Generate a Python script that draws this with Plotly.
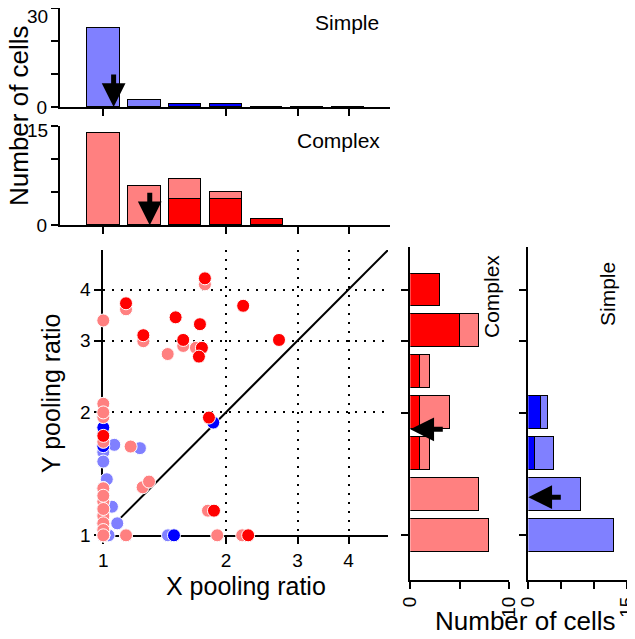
import numpy as np
import plotly.graph_objects as go

# ---------------- data ----------------
# Histogram bins are centred on pooling ratios 2^(k/3), k = 0..6  (1 ... 4)
bin_index = [0, 1, 2, 3, 4, 5, 6]

# X pooling ratio histograms (top panels)
x_simple_dark = [0, 0, 1, 1, 0, 0, 0]
x_simple_light = [24, 2, 0, 0, 0, 0, 0]
x_complex_dark = [0, 0, 4, 4, 1, 0, 0]
x_complex_light = [14, 6, 3, 1, 0, 0, 0]

# Y pooling ratio histograms (right panels)
y_complex_dark = [0, 0, 1, 1, 1, 5, 3]
y_complex_light = [8, 7, 1, 3, 1, 2, 0]
y_simple_dark = [0, 0, 1, 2, 0, 0, 0]
y_simple_light = [13, 8, 3, 1, 0, 0, 0]

# medians (arrows)
median_x_simple = 1.06
median_x_complex = 1.30
median_y_complex = 1.82
median_y_simple = 1.24

# scatter: complex cells (x ratio, y ratio, x significant, y significant)
complex_x = [1.776, 1.137, 1.00, 1.505, 1.727, 2.205, 1.254, 1.571, 1.439, 1.717,
             1.717, 2.70, 1.817, 1.00, 1.00, 1.00, 1.00, 1.00, 1.00, 1.00,
             1.00, 1.167, 1.249, 1.295, 1.838, 1.137, 1.904, 2.23,
             1.00, 1.00, 1.00, 1.00, 1.00]
complex_y = [4.19, 3.64, 3.36, 3.42, 3.29, 3.65, 3.04, 2.96, 2.78, 2.88,
             2.74, 3.01, 1.943, 2.10, 1.948, 1.723, 1.304, 1.209, 1.115, 1.07,
             1.00, 1.65, 1.311, 1.354, 1.149, 1.00, 1.00, 1.00,
             2.00, 1.25, 1.16, 1.03, 1.00]
complex_xsig = [0, 0, 0, 1, 1, 1, 0, 0, 0, 1,
                1, 1, 1, 0, 0, 0, 0, 0, 0, 0,
                0, 0, 0, 0, 1, 0, 0, 1,
                0, 0, 0, 0, 0]
complex_ysig = [1, 1, 0, 1, 1, 1, 1, 1, 0, 0,
                1, 1, 1, 0, 0, 1, 0, 0, 0, 0,
                0, 0, 0, 0, 0, 0, 0, 0,
                0, 0, 0, 0, 0]

# scatter: simple cells
simple_x = [1.00, 1.00, 1.862, 1.466, 1.00, 1.02, 1.05, 1.082, 1.064, 1.23, 1.03,
            1.00, 1.00, 1.00, 1.00, 1.00, 1.00, 1.00,
            1.137, 1.00, 1.00, 1.00, 1.00, 1.00, 1.00, 1.00, 1.00, 1.00]
simple_y = [1.806, 1.626, 1.889, 1.00, 1.516, 1.372, 1.175, 1.07, 1.666, 1.635, 1.00,
            1.948, 1.304, 1.209, 1.25, 1.16, 1.304, 1.25,
            1.00, 1.00, 1.00, 1.00, 1.07, 1.07, 1.115, 1.115, 1.03, 1.03]
simple_xsig = [0, 0, 1, 1, 0, 0, 0, 0, 0, 0, 0,
               0, 0, 0, 0, 0, 0, 0,
               0, 0, 0, 0, 0, 0, 0, 0, 0, 0]
simple_ysig = [1, 1, 1, 0, 0, 0, 0, 0, 0, 0, 0,
               0, 0, 0, 0, 0, 0, 0,
               0, 0, 0, 0, 0, 0, 0, 0, 0, 0]

ratio_ticks = [1, 2, 3, 4]
unity_line = [1.1, 5]

# ---------------- style ----------------
LIGHT_RED = "#FF8080"
DARK_RED = "#FF0000"
LIGHT_BLUE = "#8080FF"
DARK_BLUE = "#0000FF"
FONT = "Liberation Sans, Arial, sans-serif"
OFF = 8                      # page body margin
W, H = 635 - OFF, 639 - OFF  # visible figure area
PX_PER_LN = 177.0


def px_x(p):
    return min(1.0, max(0.0, (p - OFF) / W))


def px_y(p):
    return min(1.0, max(0.0, 1 - (p - OFF) / H))


def to_bin(v):
    return 3 * np.log2(v)


def nz(vals):
    return [v if v else None for v in vals]


def split_points(xs, ys, xsig, ysig):
    s = np.exp(3.0 / PX_PER_LN)
    lx, ly, dx, dy = [], [], [], []
    for x, y, a, b in zip(xs, ys, xsig, ysig):
        if a and b:
            dx.append(x); dy.append(y)
        elif a:
            lx.append(x / s); ly.append(y); dx.append(x * s); dy.append(y)
        elif b:
            lx.append(x); ly.append(y / s); dx.append(x); dy.append(y * s)
        else:
            lx.append(x); ly.append(y)
    return lx, ly, dx, dy


fig = go.Figure()

# unity line
fig.add_trace(go.Scatter(x=unity_line, y=unity_line, mode="lines",
                         line=dict(color="black", width=2), xaxis="x", yaxis="y",
                         hoverinfo="skip"))

marker_common = dict(size=13, line=dict(color="white", width=1))
for xs, ys, xsig, ysig, light, dark in [
    (simple_x, simple_y, simple_xsig, simple_ysig, LIGHT_BLUE, DARK_BLUE),
    (complex_x, complex_y, complex_xsig, complex_ysig, LIGHT_RED, DARK_RED),
]:
    lx, ly, dx, dy = split_points(xs, ys, xsig, ysig)
    fig.add_trace(go.Scatter(x=lx, y=ly, mode="markers", cliponaxis=False,
                             marker=dict(color=light, **marker_common),
                             xaxis="x", yaxis="y"))
    fig.add_trace(go.Scatter(x=dx, y=dy, mode="markers", cliponaxis=False,
                             marker=dict(color=dark, **marker_common),
                             xaxis="x", yaxis="y"))

bar_line = dict(color="black", width=1.5)
# top histograms
for xa, ya, dark_v, light_v, dc, lc, keep0 in [
    ("x2", "y2", x_simple_dark, x_simple_light, DARK_BLUE, LIGHT_BLUE, True),
    ("x3", "y3", x_complex_dark, x_complex_light, DARK_RED, LIGHT_RED, False),
]:
    dv = dark_v if keep0 else nz(dark_v)
    lv = light_v if keep0 else nz(light_v)
    fig.add_trace(go.Bar(x=bin_index, y=dv, width=0.8, marker=dict(color=dc, line=bar_line),
                         xaxis=xa, yaxis=ya))
    fig.add_trace(go.Bar(x=bin_index, y=lv, width=0.8, marker=dict(color=lc, line=bar_line),
                         xaxis=xa, yaxis=ya))
# right histograms
for xa, ya, dark_v, light_v, dc, lc in [
    ("x4", "y4", y_complex_dark, y_complex_light, DARK_RED, LIGHT_RED),
    ("x5", "y5", y_simple_dark, y_simple_light, DARK_BLUE, LIGHT_BLUE),
]:
    fig.add_trace(go.Bar(y=bin_index, x=nz(dark_v), width=0.8, orientation="h",
                         marker=dict(color=dc, line=bar_line), xaxis=xa, yaxis=ya))
    fig.add_trace(go.Bar(y=bin_index, x=nz(light_v), width=0.8, orientation="h",
                         marker=dict(color=lc, line=bar_line), xaxis=xa, yaxis=ya))

# empty traces so the overlay label axes (top count labels) are drawn
for ya in ("y6", "y7"):
    fig.add_trace(go.Scatter(x=[], y=[], mode="markers", xaxis="x2" if ya == "y6" else "x3",
                             yaxis=ya, hoverinfo="skip"))

tickfont = dict(family=FONT, size=19, color="black")
axis_common = dict(showline=True, linecolor="black", linewidth=2, ticks="outside",
                   ticklen=7, tickwidth=2, tickcolor="black", tickfont=tickfont,
                   zeroline=False, fixedrange=True, automargin=False,
                   ticklabeloverflow="allow")
grid = dict(showgrid=True, gridcolor="black", gridwidth=1.5, griddash="2px,7px",
            layer="below traces")
nogrid = dict(showgrid=False)
# overlay axis used only for the top tick label of a count axis (drawn a little lower)
top_label_axis = dict(showline=False, ticks="outside", ticklen=7, tickwidth=2,
                      tickcolor="rgba(0,0,0,0)", tickfont=tickfont, showgrid=False,
                      zeroline=False, fixedrange=True, automargin=False,
                      ticklabeloverflow="allow", side="left")

bin_ticks = [to_bin(v) for v in ratio_ticks]
hist_ratio_range = [-1.059, 7.01]
simple_x_count_range = [0, 30]
complex_x_count_range = [0, 15]

fig.update_layout(
    width=W, height=H, margin=dict(l=0, r=0, t=0, b=0, pad=0, autoexpand=False),
    paper_bgcolor="white", plot_bgcolor="white", showlegend=False,
    barmode="stack", bargap=0, font=dict(family=FONT, color="black"),
    xaxis=dict(type="log", range=[0, np.log10(5)], domain=[px_x(103.3), px_x(388)],
               anchor="y", tickvals=ratio_ticks, ticktext=[str(v) for v in ratio_ticks],
               **grid, **axis_common),
    yaxis=dict(type="log", range=[0, np.log10(5)], domain=[px_y(535.3), px_y(250)],
               anchor="x", tickvals=ratio_ticks, ticktext=[str(v) for v in ratio_ticks],
               **grid, **axis_common),
    xaxis2=dict(range=hist_ratio_range, domain=[px_x(60), px_x(390)], anchor="y2",
                tickvals=bin_ticks, showticklabels=False, **nogrid, **axis_common),
    yaxis2=dict(range=simple_x_count_range, domain=[px_y(107), px_y(8)], anchor="x2",
                tickvals=[0, 10, 20, 30], ticktext=["0", "", "", ""],
                **nogrid, **axis_common),
    yaxis6=dict(range=simple_x_count_range, overlaying="y2", anchor="x2",
                tickvals=[30], ticktext=["30"], ticklabelshift=8, **top_label_axis),
    xaxis3=dict(range=hist_ratio_range, domain=[px_x(60), px_x(390)], anchor="y3",
                tickvals=bin_ticks, showticklabels=False, **nogrid, **axis_common),
    yaxis3=dict(range=complex_x_count_range, domain=[px_y(225.3), px_y(126)], anchor="x3",
                tickvals=[0, 5, 10, 15], ticktext=["0", "", "", ""],
                **nogrid, **axis_common),
    yaxis7=dict(range=complex_x_count_range, overlaying="y3", anchor="x3",
                tickvals=[15], ticktext=["15"], ticklabelshift=4, **top_label_axis),
    xaxis4=dict(range=[0, 10], domain=[px_x(410.3), px_x(509.3)], anchor="y4",
                tickvals=[0, 5, 10], ticktext=["0", "", "10"], tickangle=-90,
                **nogrid, **axis_common),
    yaxis4=dict(range=[-1.093, 7.05], domain=[px_y(580), px_y(247)], anchor="x4",
                tickvals=bin_ticks, showticklabels=False, **nogrid, **axis_common),
    xaxis5=dict(range=[0, 15], domain=[px_x(528.3), px_x(627.3)], anchor="y5",
                tickvals=[0, 5, 10, 15], ticktext=["0", "", "", "15"], tickangle=-90,
                **nogrid, **axis_common),
    yaxis5=dict(range=[-1.093, 7.05], domain=[px_y(580), px_y(247)], anchor="x5",
                tickvals=bin_ticks, showticklabels=False, **nogrid, **axis_common),
)

arrow = dict(showarrow=True, arrowhead=2, arrowsize=0.95, arrowwidth=5,
             arrowcolor="black", text="", standoff=0)
annotations = [
    dict(x=to_bin(median_x_simple), y=0, xref="x2", yref="y2", ax=0, ay=-34, **arrow),
    dict(x=to_bin(median_x_complex), y=0, xref="x3", yref="y3", ax=0, ay=-34, **arrow),
    dict(x=0, y=to_bin(median_y_complex), xref="x4", yref="y4", ax=34, ay=0, **arrow),
    dict(x=0, y=to_bin(median_y_simple), xref="x5", yref="y5", ax=34, ay=0, **arrow),
]

label_font = dict(family=FONT, size=21, color="black")
title_font = dict(family=FONT, size=25, color="black")
big_font = dict(family=FONT, size=26, color="black")
texts = [
    dict(text="Simple", x=px_x(347), y=px_y(23), font=label_font),
    dict(text="Complex", x=px_x(338), y=px_y(140), font=label_font),
    dict(text="Complex", x=px_x(491), y=px_y(297), font=label_font, textangle=-90),
    dict(text="Simple", x=px_x(607), y=px_y(294), font=label_font, textangle=-90),
    dict(text="Number of cells", x=px_x(19), y=px_y(116), font=big_font, textangle=-90),
    dict(text="Number of cells", x=px_x(525), y=px_y(621), font=big_font),
    dict(text="Y pooling ratio", x=px_x(51), y=px_y(394), font=title_font, textangle=-90),
    dict(text="X pooling ratio", x=px_x(245.5), y=px_y(586), font=title_font),
]
for t in texts:
    annotations.append(dict(xref="paper", yref="paper", showarrow=False,
                            xanchor="center", yanchor="middle", **t))

fig.update_layout(annotations=annotations)
fig.write_html("out.html")
